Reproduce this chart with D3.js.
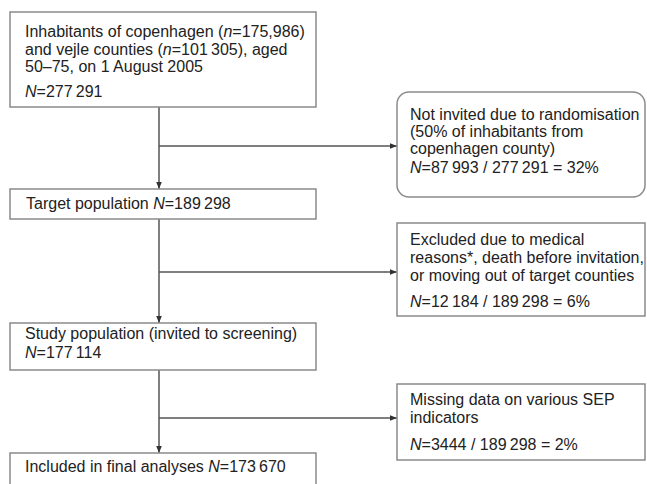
<!DOCTYPE html>
<html>
<head>
<meta charset="utf-8">
<script src="https://cdn.jsdelivr.net/npm/d3@7"></script>
<style>
  html, body { margin: 0; padding: 0; background: #fff; }
  svg { display: block; }
  text { font-family: "Liberation Sans", Arial, Helvetica, sans-serif; font-size: 16px; fill: #222; }
</style>
</head>
<body>
<svg id="chart" width="647" height="484"></svg>
<script>
// ---- data ----
const fmt = n => n >= 10000 ? d3.format(",")(n).replace(/,/g, "\u2009") : String(n);

const mainCounts = [277291, 189298, 177114, 173670];
const exclCounts = [87993, 12184, 3444];
const exclDenoms = [277291, 189298, 189298];
const exclPct = [32, 6, 2];

const mainLabels = [
  ["Inhabitants of copenhagen (_n_=175,986)", "and vejle counties (_n_=101\u2009305), aged", "50\u201375, on 1 August 2005"],
  ["Target population"],
  ["Study population (invited to screening)"],
  ["Included in final analyses"]
];
const exclLabels = [
  ["Not invited due to randomisation", "(50% of inhabitants from", "copenhagen county)"],
  ["Excluded due to medical", "reasons*, death before invitation,", "or moving out of target counties"],
  ["Missing data on various SEP", "indicators"]
];

// ---- layout ----
const svg = d3.select("#chart");
const lineColor = "#555";
const boxStroke = "#8a8a8a";
const spineX = 159;

const mainBoxes = [
  {x0: 10, x1: 316, y0: 12, y1: 107, tx: 25, lines: [37, 55, 72], nY: 97, nInline: false},
  {x0: 10, x1: 316, y0: 189, y1: 219, tx: 26, lines: [209], nInline: true},
  {x0: 10, x1: 316, y0: 323, y1: 370, tx: 25, lines: [339], nY: 358, nInline: false},
  {x0: 10, x1: 316, y0: 453, y1: 490, tx: 25, lines: [472], nInline: true}
];
const exclBoxes = [
  {x0: 397, x1: 645, y0: 92, y1: 197, tx: 410, lines: [120, 137, 154], nY: 173, branchY: 146, rounded: true},
  {x0: 397, x1: 645, y0: 223, y1: 316, tx: 410, lines: [245, 263, 281], nY: 307, branchY: 272, rounded: false},
  {x0: 397, x1: 645, y0: 384, y1: 460, tx: 410, lines: [405, 423], nY: 450, branchY: 418, rounded: false}
];

svg.append("defs").append("marker")
  .attr("id", "arr").attr("viewBox", "0 0 10 10")
  .attr("refX", 10).attr("refY", 5)
  .attr("markerWidth", 7).attr("markerHeight", 7)
  .attr("markerUnits", "userSpaceOnUse")
  .attr("orient", "auto")
  .append("path").attr("d", "M0,1 L10,5 L0,9 Z").attr("fill", "#333");

function addRich(sel, str) {
  const parts = str.split("_");
  parts.forEach((p, i) => {
    if (!p) return;
    sel.append("tspan").text(p).style("font-style", i % 2 ? "italic" : "normal");
  });
}

for (let i = 0; i < mainBoxes.length - 1; i++) {
  svg.append("line")
    .attr("x1", spineX).attr("x2", spineX)
    .attr("y1", mainBoxes[i].y1).attr("y2", mainBoxes[i + 1].y0)
    .attr("stroke", lineColor).attr("stroke-width", 1.5)
    .attr("marker-end", "url(#arr)");
}
exclBoxes.forEach(b => {
  svg.append("line")
    .attr("x1", spineX).attr("x2", b.x0)
    .attr("y1", b.branchY).attr("y2", b.branchY)
    .attr("stroke", lineColor).attr("stroke-width", 1.5)
    .attr("marker-end", "url(#arr)");
});

mainBoxes.forEach((b, i) => {
  svg.append("rect")
    .attr("x", b.x0).attr("y", b.y0)
    .attr("width", b.x1 - b.x0).attr("height", b.y1 - b.y0)
    .attr("fill", "#fff").attr("stroke", boxStroke).attr("stroke-width", 1.5);
  const labels = mainLabels[i];
  labels.forEach((l, j) => {
    const t = svg.append("text").attr("x", b.tx).attr("y", b.lines[j]);
    const isLast = j === labels.length - 1;
    if (b.nInline && isLast) addRich(t, l + " _N_=" + fmt(mainCounts[i]));
    else addRich(t, l);
  });
  if (!b.nInline) {
    const t = svg.append("text").attr("x", b.tx).attr("y", b.nY);
    addRich(t, "_N_=" + fmt(mainCounts[i]));
  }
});

exclBoxes.forEach((b, i) => {
  svg.append("rect")
    .attr("x", b.x0).attr("y", b.y0)
    .attr("width", b.x1 - b.x0).attr("height", b.y1 - b.y0)
    .attr("rx", b.rounded ? 12 : 0)
    .attr("fill", "#fff").attr("stroke", boxStroke).attr("stroke-width", 1.5);
  exclLabels[i].forEach((l, j) => {
    const t = svg.append("text").attr("x", b.tx).attr("y", b.lines[j]);
    addRich(t, l);
  });
  const t = svg.append("text").attr("x", b.tx).attr("y", b.nY);
  addRich(t, "_N_=" + fmt(exclCounts[i]) + " / " + fmt(exclDenoms[i]) + " = " + exclPct[i] + "%");
});
</script>
</body>
</html>
